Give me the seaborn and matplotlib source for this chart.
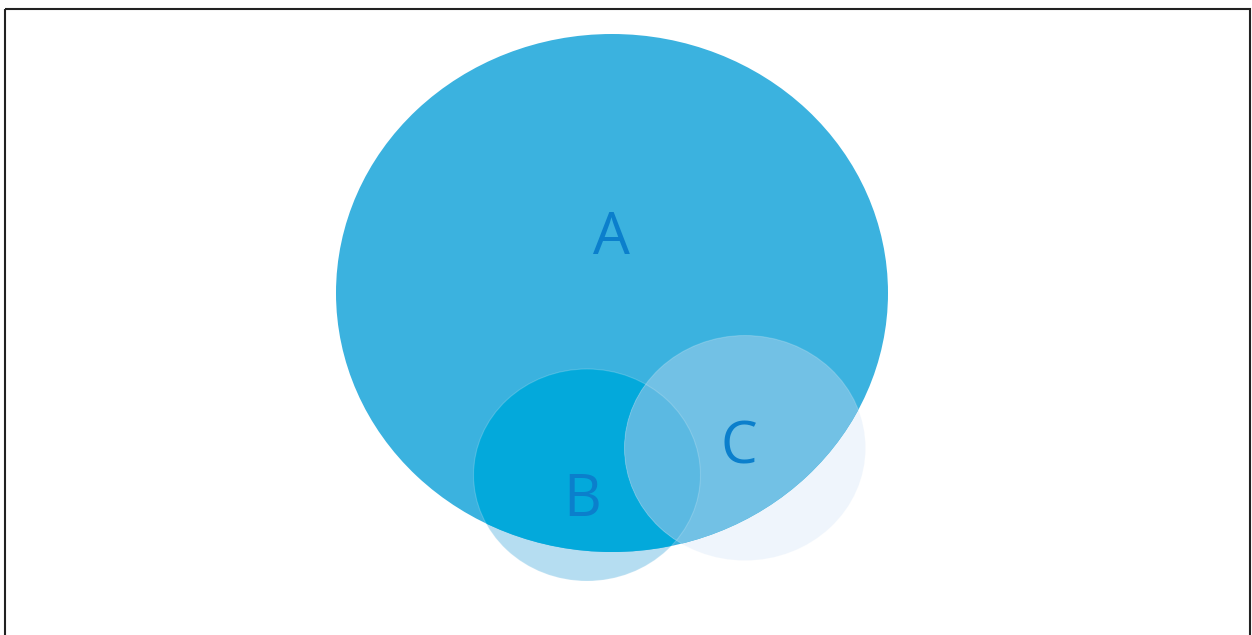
import matplotlib
matplotlib.use("Agg")
import matplotlib.pyplot as plt
from matplotlib.patches import Ellipse, Rectangle
import seaborn as sns

# sets, in pixel units of the 1252x635 picture
names = ["A", "B", "C"]
cx = [612, 587, 745]
cy = [293, 475, 448]
widths = [552, 227, 241]
heights = [518, 212, 225]
label_x = [611, 582, 739]
label_y = [239, 501, 448]

col_a = "#3bb2df"
col_b_in = "#03a9db"
col_b_out = "#b5ddf1"
col_c_in = "#72c1e5"
col_c_out = "#eff5fc"
col_bc = "#5bb9e2"
col_text = "#0b7fcc"

sns.set_theme(style="white")
plt.rcParams['font.family'] = ['Open Sans', 'DejaVu Sans']

fig = plt.figure(figsize=(12.52, 6.35), dpi=100)
ax = fig.add_axes([0, 0, 1, 1])
ax.set_xlim(0, 1252)
ax.set_ylim(635, 0)
ax.axis("off")


def ell(i, color, z):
    e = Ellipse((cx[i], cy[i]), widths[i], heights[i], facecolor=color,
                edgecolor="none", zorder=z)
    ax.add_patch(e)
    return e


# outer (outside A) parts first, A covers the rest
ell(2, col_c_out, 1)
ell(1, col_b_out, 2)
ea = ell(0, col_a, 3)

eb = ell(1, col_b_in, 4)
eb.set_clip_path(ea)
ec = ell(2, col_c_in, 5)
ec.set_clip_path(ea)
ebc = ell(2, col_bc, 6)
ebc.set_clip_path(Ellipse((cx[1], cy[1]), widths[1], heights[1],
                          transform=ax.transData))

# faint light rims
for i in [1, 2]:
    ax.add_patch(Ellipse((cx[i], cy[i]), widths[i], heights[i],
                         facecolor="none", edgecolor="white", alpha=0.18,
                         linewidth=0.8, zorder=7))

for n, x, y in zip(names, label_x, label_y):
    ax.text(x, y, n, color=col_text, fontsize=42, ha="center", va="center",
            zorder=8)

# frame
ax.add_patch(Rectangle((4.5, 8.5), 1245, 700, facecolor="none",
                       edgecolor="#222222", linewidth=1.5, zorder=9,
                       clip_on=False))

fig.savefig("out.png", dpi=100)
